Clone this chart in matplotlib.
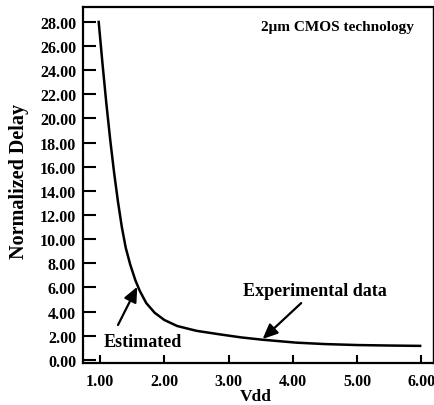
import matplotlib.pyplot as plt

vdd = [0.98, 1.04, 1.10, 1.16, 1.22, 1.28, 1.34, 1.40, 1.47, 1.55, 1.62, 1.72,
       1.85, 2.00, 2.20, 2.50, 2.87, 3.20, 3.53, 4.05, 4.50, 5.00, 5.50, 5.98]
delay = [28.0, 24.5, 21.2, 18.2, 15.5, 13.1, 11.0, 9.3, 7.9, 6.6, 5.7, 4.7,
         3.9, 3.3, 2.8, 2.4, 2.1, 1.85, 1.66, 1.42, 1.30, 1.22, 1.18, 1.15]

xticks = [1, 2, 3, 4, 5, 6]
yticks = list(range(0, 29, 2))

plt.rcParams['font.family'] = ['Liberation Serif', 'DejaVu Serif']
plt.rcParams['font.weight'] = 'bold'

fig = plt.figure(figsize=(4.35, 4.06), dpi=100)
ax = fig.add_axes([0.1908, 0.1034, 0.8046, 0.8769])
ax.plot(vdd, delay, color='black', lw=1.8, solid_joinstyle='round')

ax.set_xlim(0.736, 6.18)
ax.set_ylim(-0.27, 29.24)
ax.set_xticks(xticks)
ax.set_xticklabels(['%.2f' % v for v in xticks])
ax.set_yticks(yticks)
ax.set_yticklabels(['%.2f' % v for v in yticks])
ax.tick_params(axis='y', direction='in', length=9.5, width=1.5, labelsize=11.5, pad=5)
ax.tick_params(axis='x', direction='in', length=6, width=1.5, labelsize=11.5, pad=7)
for s in ax.spines.values():
    s.set_linewidth(1.6)
ax.spines['right'].set_linewidth(1.0)

ax.set_xlabel('Vdd', fontsize=12.5, fontweight='bold', va='center')
ax.xaxis.set_label_coords(0.493, -0.093)
ax.set_ylabel('Normalized Delay', fontsize=14.5, fontweight='bold', va='center')
ax.yaxis.set_label_coords(-0.182, 0.514)

ax.text(5.88, 27.6, u'2\u03bcm CMOS technology', fontsize=11, ha='right', va='center')

arrow = dict(arrowstyle='-|>,head_length=0.9,head_width=0.4',
             color='black', lw=1.6, shrinkA=0, shrinkB=0)
ax.text(1.67, 1.55, 'Estimated', ha='center', va='center', fontsize=13)
ax.annotate('', xy=(1.58, 6.05), xytext=(1.28, 2.88), arrowprops=arrow)
ax.text(4.34, 5.71, 'Experimental data', ha='center', va='center', fontsize=13)
ax.annotate('', xy=(3.53, 1.72), xytext=(4.13, 4.7), arrowprops=arrow)

fig.savefig('out.png', dpi=100)
